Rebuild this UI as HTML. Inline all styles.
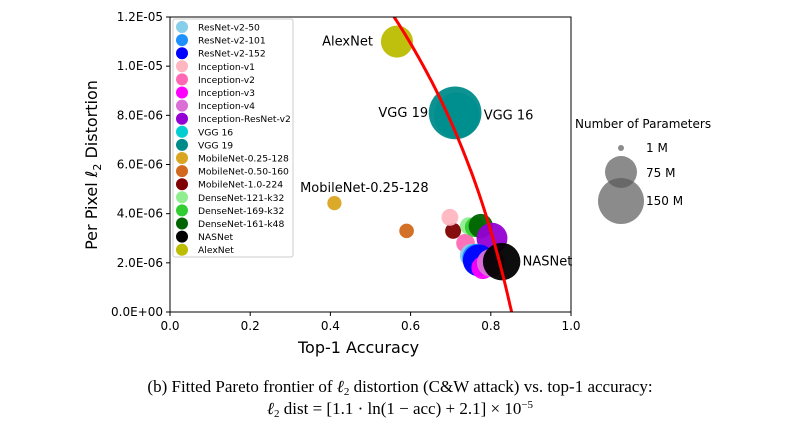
<!DOCTYPE html>
<html><head><meta charset="utf-8"><style>
body{margin:0;background:#fff;width:800px;height:429px;overflow:hidden}
svg text{font-family:"DejaVu Sans","Liberation Sans",sans-serif}
</style></head><body>
<svg id="chart" width="800" height="429" viewBox="0 0 800 429">
<g id="marks"></g>
<g id="axes"></g>
<g id="legend"></g>
<text x="298" y="353" font-size="16">Top-1 Accuracy</text>
<text transform="translate(97,165) rotate(-90)" text-anchor="middle" font-size="16">Per Pixel <tspan font-style="italic">ℓ</tspan><tspan font-size="11" dy="4">2</tspan><tspan dy="-4"> Distortion</tspan></text>
<g>
<text x="575" y="128" font-size="12">Number of Parameters</text>
<circle cx="621" cy="148" r="3" fill="rgba(90,90,90,0.7)"/>
<text x="646" y="152" font-size="12">1 M</text>
<circle cx="621" cy="172" r="16" fill="rgba(90,90,90,0.7)"/>
<text x="646" y="177" font-size="12">75 M</text>
<circle cx="621" cy="201" r="23" fill="rgba(90,90,90,0.7)"/>
<text x="646" y="205" font-size="12">150 M</text>
</g>
<text x="400" y="392" text-anchor="middle" font-size="17" style="font-family:'Liberation Serif',serif">(b) Fitted Pareto frontier of <tspan font-style="italic">ℓ</tspan><tspan font-size="11" dy="3">2</tspan><tspan dy="-3"> distortion (C&amp;W attack) vs. top-1 accuracy:</tspan></text>
<text x="400" y="414" text-anchor="middle" font-size="17" style="font-family:'Liberation Serif',serif"><tspan font-style="italic">ℓ</tspan><tspan font-size="11" dy="3">2</tspan><tspan dy="-3"> dist = [1.1 · ln(1 − acc) + 2.1] × 10</tspan><tspan font-size="11" dy="-6">−5</tspan></text>
</svg>
<script>
const names=["ResNet-v2-50","ResNet-v2-101","ResNet-v2-152","Inception-v1","Inception-v2","Inception-v3","Inception-v4","Inception-ResNet-v2","VGG 16","VGG 19","MobileNet-0.25-128","MobileNet-0.50-160","MobileNet-1.0-224","DenseNet-121-k32","DenseNet-169-k32","DenseNet-161-k48","NASNet","AlexNet"];
const colors=["#87ceeb","#1e90ff","#0000ff","#ffb6c1","#ff69b4","#ff00ff","#da70d6","#9400d3","#00ced1","#008b8b","#daa520","#d2691e","#800000","#90ee90","#32cd32","#006400","#000000","#bcbc00"];
const accuracy=[0.752,0.764,0.770,0.698,0.737,0.780,0.800,0.803,0.715,0.711,0.41,0.59,0.706,0.745,0.760,0.775,0.827,0.566];
const distortion=[2.3e-6,2.2e-6,2.1e-6,3.85e-6,2.8e-6,1.8e-6,2.0e-6,3.0e-6,8.0e-6,8.1e-6,4.43e-6,3.3e-6,3.3e-6,3.5e-6,3.45e-6,3.5e-6,2.05e-6,1.10e-5];
const params=[25.6,44.5,60.2,6.6,11.2,23.8,42.7,55.8,138,190,0.47,1.3,4.2,8.0,14.3,28.7,88.9,61];
const xTicks=["0.0","0.2","0.4","0.6","0.8","1.0"];
const yTicks=["0.0E+00","2.0E-06","4.0E-06","6.0E-06","8.0E-06","1.0E-05","1.2E-05"];
const NS="http://www.w3.org/2000/svg";
const X0=170,X1=571,Y0=312,Y1=17;
const xs=v=>X0+v*(X1-X0), ys=v=>Y0-v/1.2e-5*(Y0-Y1);
function mk(t,a,p){const e=document.createElementNS(NS,t);for(const k in a)e.setAttribute(k,a[k]);p.appendChild(e);return e;}
const marks=document.getElementById('marks'),axes=document.getElementById('axes'),leg=document.getElementById('legend');
const clip=mk('clipPath',{id:'pc'},marks);mk('rect',{x:X0,y:Y1,width:X1-X0,height:Y0-Y1},clip);
const g=mk('g',{'clip-path':'url(#pc)'},marks);
const order=[8,9,17,10,11,12,3,4,13,14,15,7,0,1,2,5,6,16];
order.forEach(i=>{const c=mk('circle',{cx:xs(accuracy[i]),cy:ys(distortion[i]),r:Math.sqrt(49+3.4*params[i]),fill:colors[i],'fill-opacity':0.95},g);

});
let d='';for(let a=0.5;a<=0.9;a+=0.002){const v=(1.1*Math.log(1-a)+2.1)*1e-5;d+=(d?'L':'M')+xs(a).toFixed(1)+','+ys(v).toFixed(1);}
const fr=mk('path',{d:d,stroke:'#ff0000','stroke-width':3,fill:'none'},g);


const lbls=[[17,-24,4,'end','AlexNet'],[9,-27,4,'end','VGG 19'],[8,27,4,'start','VGG 16'],[10,30,-11,'middle','MobileNet-0.25-128'],[16,21,4,'start','NASNet']];
lbls.forEach(l=>{const t=mk('text',{x:xs(accuracy[l[0]])+l[1],y:ys(distortion[l[0]])+l[2],'text-anchor':l[3],'font-size':13},marks);t.textContent=l[4];

});
const fr2=mk('rect',{x:X0,y:Y1,width:X1-X0,height:Y0-Y1,fill:'none',stroke:'#000','stroke-width':1},axes);


xTicks.forEach((t,i)=>{const x=xs(i/5);mk('line',{x1:x,x2:x,y1:Y0,y2:Y0+4,stroke:'#000'},axes);
const e=mk('text',{x:x,y:Y0+18,'text-anchor':'middle','font-size':12},axes);e.textContent=t;

});
yTicks.forEach((t,i)=>{const y=ys(i*2e-6);mk('line',{x1:X0-4,x2:X0,y1:y,y2:y,stroke:'#000'},axes);
const e=mk('text',{x:X0-7,y:y+4,'text-anchor':'end','font-size':12},axes);e.textContent=t;

});
const lb=mk('rect',{x:173,y:19,width:120,height:238,fill:'#fff',stroke:'#ccc',rx:2},leg);


names.forEach((n,i)=>{const y=27+i*13.1;const ge=mk('g',{},leg);


mk('circle',{cx:182,cy:y,r:6,fill:colors[i]},ge);const t=mk('text',{x:198,y:y+3.5,'font-size':9.2},ge);t.textContent=n;});
</script>
</body></html>
